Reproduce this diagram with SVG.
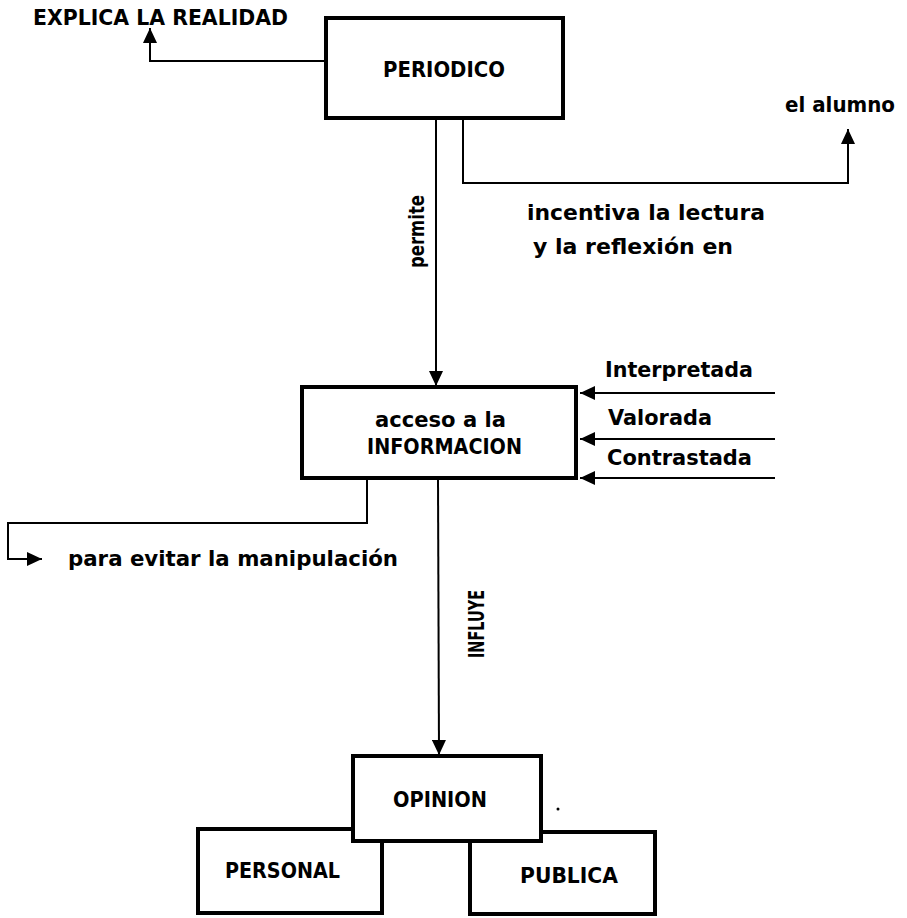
<svg xmlns="http://www.w3.org/2000/svg" width="907" height="918" viewBox="0 0 907 918">
<style>
.box{fill:#fff;stroke:#000;stroke-width:4}
.t{font-family:"DejaVu Sans","Liberation Sans",sans-serif;font-weight:bold;fill:#000}
.cap{font-size:21px}
.low{font-size:22px}
.c{fill:none;stroke:#000;stroke-width:2}
</style>
<defs>
<marker id="ah" markerUnits="userSpaceOnUse" markerWidth="16" markerHeight="14" refX="15" refY="7" orient="auto">
<path d="M0,0 L15,7 L0,14 Z" fill="#000"/>
</marker>
</defs>
<rect width="907" height="918" fill="#fff"/>
<g id="connectors">
<polyline class="c" points="326,61 150,61 150,28" marker-end="url(#ah)"/>
<line class="c" x1="436" y1="118" x2="436" y2="386" marker-end="url(#ah)"/>
<polyline class="c" points="463,118 463,183 848,183 848,129" marker-end="url(#ah)"/>
<line class="c" x1="775" y1="393" x2="580" y2="393" marker-end="url(#ah)"/>
<line class="c" x1="775" y1="439" x2="580" y2="439" marker-end="url(#ah)"/>
<line class="c" x1="775" y1="478" x2="580" y2="478" marker-end="url(#ah)"/>
<polyline class="c" points="367,478 367,523 8,523 8,559 42,559" marker-end="url(#ah)"/>
<line class="c" x1="438" y1="478" x2="439" y2="755" marker-end="url(#ah)"/>
<text class="t low" transform="translate(424,268) rotate(-90)" textLength="73" lengthAdjust="spacingAndGlyphs">permite</text>
<text class="t cap" transform="translate(484,658) rotate(-90)" textLength="68" lengthAdjust="spacingAndGlyphs">INFLUYE</text>
<text class="t cap" x="33" y="25" textLength="255" lengthAdjust="spacingAndGlyphs">EXPLICA LA REALIDAD</text>
<text class="t low" x="785" y="112" textLength="110" lengthAdjust="spacingAndGlyphs">el alumno</text>
<text class="t low" x="527" y="220" textLength="238" lengthAdjust="spacingAndGlyphs">incentiva la lectura</text>
<text class="t low" x="533" y="254" textLength="200" lengthAdjust="spacingAndGlyphs">y la reflexión en</text>
<text class="t low" x="605" y="377" textLength="148" lengthAdjust="spacingAndGlyphs">Interpretada</text>
<text class="t low" x="608" y="425" textLength="104" lengthAdjust="spacingAndGlyphs">Valorada</text>
<text class="t low" x="607" y="465" textLength="145" lengthAdjust="spacingAndGlyphs">Contrastada</text>
<text class="t low" x="68" y="566" textLength="330" lengthAdjust="spacingAndGlyphs">para evitar la manipulación</text>
</g>
<g id="periodico">
<rect class="box" x="326" y="18" width="237" height="100"/>
<text class="t cap" x="383" y="77" textLength="122" lengthAdjust="spacingAndGlyphs">PERIODICO</text>
</g>
<g id="acceso">
<rect class="box" x="302" y="387" width="274" height="91"/>
<text class="t low" x="375" y="427" textLength="131" lengthAdjust="spacingAndGlyphs">acceso a la</text>
<text class="t cap" x="367" y="454" textLength="155" lengthAdjust="spacingAndGlyphs">INFORMACION</text>
</g>
<g id="personal">
<rect class="box" x="198" y="829" width="184" height="84"/>
<text class="t cap" x="225" y="878" textLength="115" lengthAdjust="spacingAndGlyphs">PERSONAL</text>
</g>
<g id="publica">
<rect class="box" x="470" y="832" width="185" height="82"/>
<text class="t cap" x="520" y="883" textLength="98" lengthAdjust="spacingAndGlyphs">PUBLICA</text>
</g>
<g id="opinion">
<rect class="box" x="353" y="756" width="188" height="85"/>
<text class="t cap" x="393" y="807" textLength="94" lengthAdjust="spacingAndGlyphs">OPINION</text>
</g>
<circle cx="558" cy="809" r="1.5" fill="#000"/>
</svg>
